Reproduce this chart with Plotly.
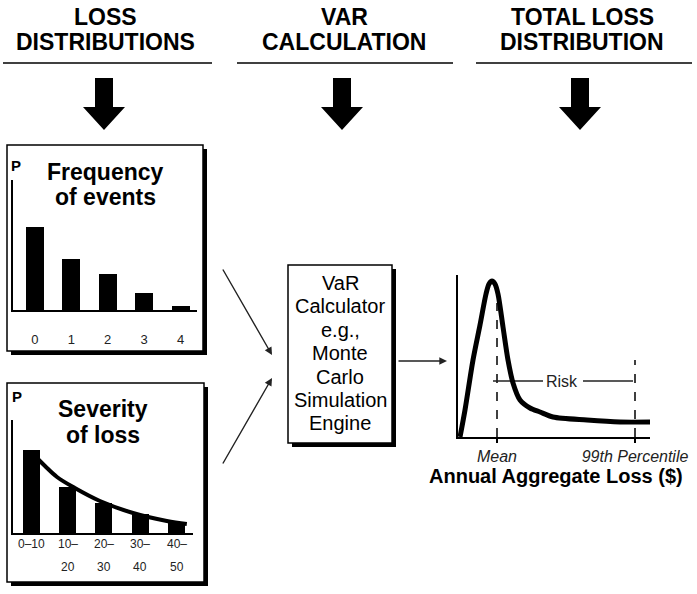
import plotly.graph_objects as go

W, H = 697, 594
FONT = "Liberation Sans, Arial, sans-serif"

# ---- data ----
freq_events = [0, 1, 2, 3, 4]
freq_labels = ["0", "1", "2", "3", "4"]
freq_prob = [0.83, 0.51, 0.36, 0.17, 0.04]

sev_bins = [0, 1, 2, 3, 4]
sev_labels_top = ["0–10", "10–", "20–", "30–", "40–"]
sev_labels_bottom = ["", "20", "30", "40", "50"]
sev_prob = [0.83, 0.46, 0.30, 0.19, 0.10]
sev_curve_x = [0.05, 0.38, 0.71, 1.20, 1.89, 2.80, 3.73, 4.28]
sev_curve_y = [0.79, 0.67, 0.56, 0.45, 0.32, 0.20, 0.12, 0.09]

loss_x = [2, 7, 15, 22, 28, 31, 34, 37, 40, 45, 50, 55, 62, 72, 82, 95, 129, 162, 192]
loss_y = [0, 27, 77, 112, 143, 153, 156, 153, 143, 110, 77, 54, 37, 29, 25, 20, 17, 15, 15]
mean_x = 39
mean_top = 134
p99_x = 177
p99_top = 77
risk_level = 56
loss_tick_vals = [mean_x, p99_x]
loss_tick_text = ["Mean", "99th Percentile"]

headers = [["LOSS", "DISTRIBUTIONS"], ["VAR", "CALCULATION"], ["TOTAL LOSS", "DISTRIBUTION"]]
engine_lines = ["VaR", "Calculator", "e.g.,", "Monte", "Carlo", "Simulation", "Engine"]


def px(x):
    return x / W


def py(y):
    return 1 - y / H


fig = go.Figure()

# frequency bars
fig.add_trace(go.Bar(x=freq_events, y=freq_prob, width=0.5, marker=dict(color="black", line=dict(width=0)),
                     xaxis="x", yaxis="y", showlegend=False))
# severity bars + curve
fig.add_trace(go.Bar(x=sev_bins, y=sev_prob, width=0.47, marker=dict(color="black", line=dict(width=0)),
                     xaxis="x2", yaxis="y2", showlegend=False))
fig.add_trace(go.Scatter(x=sev_curve_x, y=sev_curve_y, mode="lines", line=dict(color="black", width=4, shape="spline"),
                         xaxis="x2", yaxis="y2", showlegend=False))
# total loss distribution
fig.add_trace(go.Scatter(x=[mean_x, mean_x], y=[0, mean_top], mode="lines",
                         line=dict(color="black", width=1.5, dash="dash"), xaxis="x3", yaxis="y3", showlegend=False))
fig.add_trace(go.Scatter(x=[p99_x, p99_x], y=[0, p99_top], mode="lines",
                         line=dict(color="black", width=1.5, dash="dash"), xaxis="x3", yaxis="y3", showlegend=False))
fig.add_trace(go.Scatter(x=[mean_x - 4, 85, None, 125, p99_x - 2], y=[risk_level, risk_level, None, risk_level, risk_level],
                         mode="lines", line=dict(color="#222", width=1.5), xaxis="x3", yaxis="y3", showlegend=False))
fig.add_trace(go.Scatter(x=loss_x, y=loss_y, mode="lines", line=dict(color="black", width=5, shape="spline", smoothing=0.8),
                         xaxis="x3", yaxis="y3", showlegend=False))

shapes = []
# header rules
for x0, x1 in [(3, 212), (237, 453), (476, 692)]:
    shapes.append(dict(type="line", xref="paper", yref="paper", x0=px(x0), x1=px(x1), y0=py(63), y1=py(63),
                       line=dict(color="#404040", width=2)))
# big arrows
for cx in [104, 342, 580]:
    pts = [(cx - 9, 78), (cx + 9, 78), (cx + 9, 107), (cx + 21, 107), (cx, 130), (cx - 21, 107), (cx - 9, 107)]
    path = "M " + " L ".join(f"{px(a):.5f},{py(b):.5f}" for a, b in pts) + " Z"
    shapes.append(dict(type="path", xref="paper", yref="paper", path=path, fillcolor="black", line=dict(width=0)))
# boxes with shadows
for x0, y0, x1, y1 in [(7, 145, 203, 351), (7, 383, 204, 582), (288, 265, 392, 443)]:
    shapes.append(dict(type="rect", xref="paper", yref="paper", x0=px(x0 + 4), x1=px(x1 + 4), y0=py(y0 + 4), y1=py(y1 + 4),
                       fillcolor="black", line=dict(width=0), layer="below"))
    shapes.append(dict(type="rect", xref="paper", yref="paper", x0=px(x0), x1=px(x1), y0=py(y0), y1=py(y1),
                       fillcolor="white", line=dict(color="black", width=1.5), layer="below"))

annotations = []
for cx, (l1, l2) in zip([105, 344, 582], headers):
    annotations.append(dict(text=f"<b>{l1}</b>", x=px(cx), y=py(17), xref="paper", yref="paper", showarrow=False,
                            font=dict(family=FONT, size=23, color="black"), xanchor="center", yanchor="middle"))
    annotations.append(dict(text=f"<b>{l2}</b>", x=px(cx), y=py(42), xref="paper", yref="paper", showarrow=False,
                            font=dict(family=FONT, size=23, color="black"), xanchor="center", yanchor="middle"))


def txt(t, x, y, size, bold=False, italic=False, color="black"):
    if bold:
        t = f"<b>{t}</b>"
    if italic:
        t = f"<i>{t}</i>"
    annotations.append(dict(text=t, x=px(x), y=py(y), xref="paper", yref="paper", showarrow=False,
                            font=dict(family=FONT, size=size, color=color), xanchor="center", yanchor="middle"))


txt("Frequency", 105, 172, 23, bold=True)
txt("of events", 105, 197, 23, bold=True)
txt("P", 16, 166, 15, bold=True)
txt("Severity", 103, 409, 23, bold=True)
txt("of loss", 103, 435, 23, bold=True)
txt("P", 17, 396, 15, bold=True)

for i, line in enumerate(engine_lines):
    txt(line, 340, 283 + 23.4 * i, 20)

txt("<b>Annual Aggregate Loss ($)</b>", 556, 476, 20)

# severity tick labels (two lines)
for b, t1, t2 in zip(sev_bins, sev_labels_top, sev_labels_bottom):
    annotations.append(dict(text=t1, x=b, y=py(544), xref="x2", yref="paper", showarrow=False,
                            font=dict(family=FONT, size=12, color="#222"), xanchor="center", yanchor="middle"))
    if t2:
        annotations.append(dict(text=t2, x=b, y=py(567), xref="x2", yref="paper", showarrow=False,
                                font=dict(family=FONT, size=12, color="#222"), xanchor="center", yanchor="middle"))

# Risk label
annotations.append(dict(text="Risk", x=104, y=risk_level, xref="x3", yref="y3", showarrow=False, bgcolor="white",
                        font=dict(family=FONT, size=16, color="#222"), xanchor="center", yanchor="middle"))

# flow arrows
for (sx, sy), (tx, ty) in [((222, 268), (272, 355)), ((222, 465), (272, 378)), ((397, 361), (447, 361))]:
    annotations.append(dict(x=px(tx), y=py(ty), xref="paper", yref="paper", ax=sx - tx, ay=sy - ty,
                            axref="pixel", ayref="pixel", showarrow=True, arrowhead=2, arrowsize=1.1,
                            arrowwidth=1.4, arrowcolor="#222", text=""))

common = dict(automargin=False, showgrid=False, zeroline=False)

fig.update_layout(
    width=W, height=H, autosize=False, margin=dict(l=0, r=0, t=0, b=0, pad=0),
    paper_bgcolor="white", plot_bgcolor="rgba(0,0,0,0)",
    font=dict(family=FONT),
    bargap=0, shapes=shapes, annotations=annotations, showlegend=False,
    xaxis=dict(domain=[px(13), px(197)], range=[-0.6, 4.45], anchor="y", tickvals=freq_events, ticktext=freq_labels,
               showline=True, linewidth=2, linecolor="black",
               ticks="outside", ticklen=16, tickcolor="rgba(0,0,0,0)",
               tickfont=dict(family=FONT, size=13, color="#222"), **common),
    yaxis=dict(domain=[py(310), py(180)], range=[0, 1.3], anchor="x", showline=True, linewidth=1.5, linecolor="black",
               showticklabels=False, ticks="", **common),
    xaxis2=dict(domain=[px(13), px(193)], range=[-0.5, 4.45], anchor="y2", showline=True, linewidth=2,
                linecolor="black", showticklabels=False, ticks="", **common),
    yaxis2=dict(domain=[py(533), py(420)], range=[0, 1.13], anchor="x2", showline=True, linewidth=1.5,
                linecolor="black", showticklabels=False, ticks="", **common),
    xaxis3=dict(domain=[px(458), px(650)], range=[0, 192], anchor="y3", tickvals=loss_tick_vals, ticktext=loss_tick_text,
                showline=True, linewidth=2, linecolor="black",
                ticks="outside", ticklen=4, tickwidth=1.5, tickcolor="black",
                tickfont=dict(family=FONT, size=16, color="#222", style="italic"), **common),
    yaxis3=dict(domain=[py(437), py(275)], range=[0, 162], anchor="x3", showline=True, linewidth=1.5,
                linecolor="black", showticklabels=False, ticks="", **common),
)

fig.write_html("out.html", config={"responsive": False, "displayModeBar": False},
               post_script="document.body.style.margin='0px';document.body.style.overflow='hidden';")
